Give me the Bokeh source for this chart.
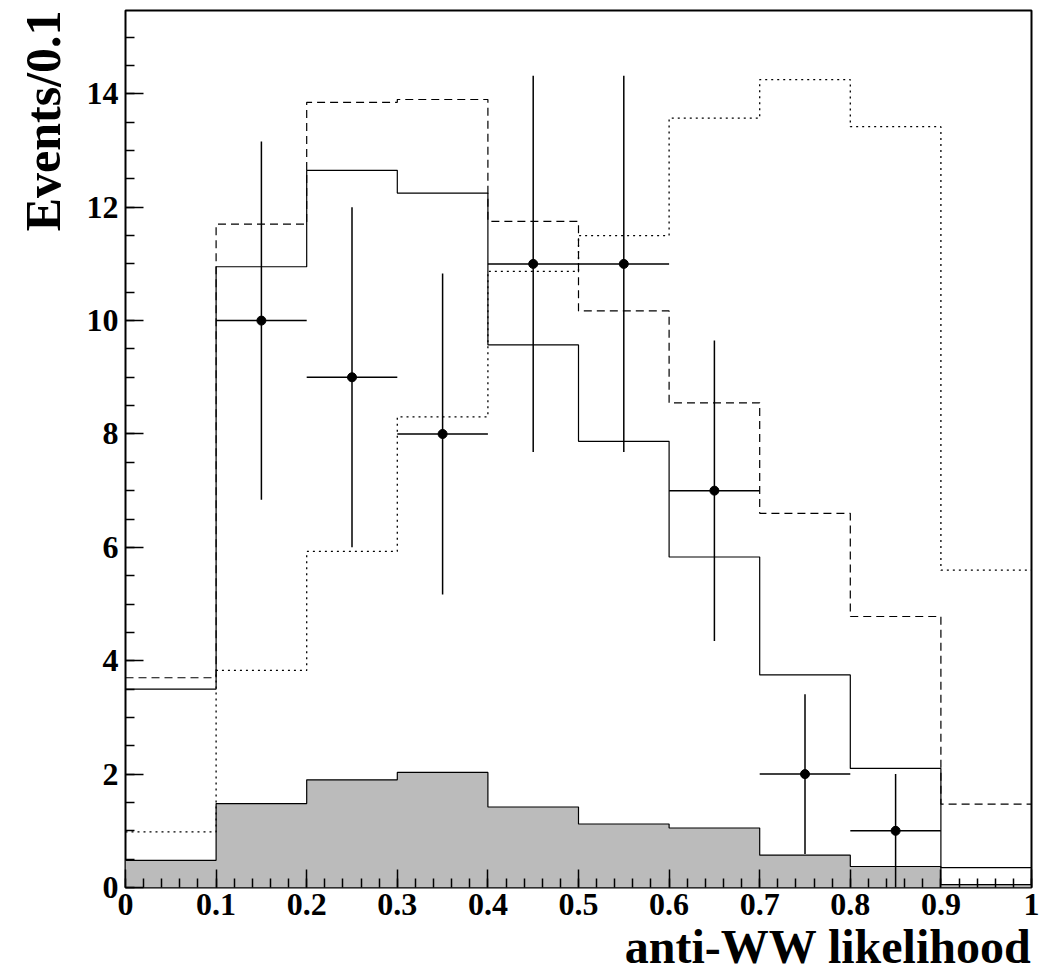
from bokeh.plotting import figure
from bokeh.models import Range1d, FixedTicker, Title
from bokeh.embed import file_html
from bokeh.resources import INLINE

# bin edges and histogram contents (10 bins of 0.1)
edges = [0.0, 0.1, 0.2, 0.3, 0.4, 0.5, 0.6, 0.7, 0.8, 0.9, 1.0]
solid_hist = [3.5, 10.95, 12.65, 12.25, 9.57, 7.87, 5.83, 3.75, 2.1, 0.35]
dashed_hist = [3.7, 11.7, 13.85, 13.9, 11.75, 10.17, 8.55, 6.6, 4.78, 1.47]
dotted_hist = [0.98, 3.83, 5.93, 8.3, 10.87, 11.5, 13.57, 14.25, 13.42, 5.6]
gray_hist = [0.48, 1.48, 1.9, 2.03, 1.42, 1.12, 1.05, 0.57, 0.37, 0.05]

# data points
data_x = [0.15, 0.25, 0.35, 0.45, 0.55, 0.65, 0.75, 0.85]
data_y = [10, 9, 8, 11, 11, 7, 2, 1]
data_err = [3.16, 3.0, 2.83, 3.32, 3.32, 2.65, 1.41, 1.0]
bin_half = 0.05

x_ticks = [0, 0.1, 0.2, 0.3, 0.4, 0.5, 0.6, 0.7, 0.8, 0.9, 1]
x_tick_labels = ["0", "0.1", "0.2", "0.3", "0.4", "0.5", "0.6", "0.7", "0.8", "0.9", "1"]
y_ticks = [0, 2, 4, 6, 8, 10, 12, 14]

FONT = "Liberation Serif"

p = figure(width=1039, height=972, output_backend="svg", toolbar_location=None,
           x_range=Range1d(0, 1), y_range=Range1d(0, 15.47),
           min_border_left=124, min_border_right=8, min_border_top=10, min_border_bottom=84)
p.grid.visible = False
p.outline_line_color = "black"
p.outline_line_width = 2
p.background_fill_color = "white"
p.border_fill_color = "white"

# gray filled histogram
p.varea_step(x=edges, y1=[0] * len(edges), y2=gray_hist + [gray_hist[-1]],
             step_mode="after", fill_color="#bbbbbb")
p.step(edges, gray_hist + [gray_hist[-1]], mode="after", line_color="black", line_width=1.2)

p.step(edges, dotted_hist + [dotted_hist[-1]], mode="after", line_color="black",
       line_width=1.3, line_dash="2 4")
p.step(edges, dashed_hist + [dashed_hist[-1]], mode="after", line_color="black",
       line_width=1.2, line_dash="8 5")
p.step(edges, solid_hist + [solid_hist[-1]], mode="after", line_color="black", line_width=1.2)

# data with error bars
p.segment(x0=data_x, x1=data_x, y0=[y - e for y, e in zip(data_y, data_err)],
          y1=[y + e for y, e in zip(data_y, data_err)], line_color="black", line_width=1.5)
p.segment(x0=[x - bin_half for x in data_x], x1=[x + bin_half for x in data_x],
          y0=data_y, y1=data_y, line_color="black", line_width=1.5)
p.scatter(data_x, data_y, size=9, color="black")

# axes, ROOT style: ticks pointing inwards
for ax in (p.xaxis, p.yaxis):
    ax.axis_line_color = None
    ax.major_tick_in = 18
    ax.major_tick_out = 0
    ax.minor_tick_in = 9
    ax.minor_tick_out = 0
    ax.major_tick_line_width = 1.5
    ax.minor_tick_line_width = 1.5
    ax.major_label_text_font = FONT
    ax.major_label_text_font_style = "bold"
    ax.major_label_text_font_size = "32px"
    ax.major_label_text_color = "black"

p.xaxis.ticker = FixedTicker(ticks=x_ticks,
                             minor_ticks=[i * 0.02 for i in range(51)])
p.xaxis.major_label_overrides = dict(zip(x_ticks, x_tick_labels))
p.xaxis.major_label_standoff = 6
p.yaxis.ticker = FixedTicker(ticks=y_ticks,
                             minor_ticks=[i * 0.5 for i in range(32)])
p.yaxis.major_label_standoff = 7

# axis titles, right / top aligned as in ROOT
p.add_layout(Title(text="anti-WW likelihood", align="right", text_font=FONT,
                   text_font_style="bold", text_font_size="48px", text_color="black",
                   standoff=0), "below")
p.add_layout(Title(text="Events/0.1", align="right", text_font=FONT,
                   text_font_style="bold", text_font_size="50px", text_color="black",
                   standoff=25), "left")

open("out.html", "w").write(file_html(p, INLINE))
